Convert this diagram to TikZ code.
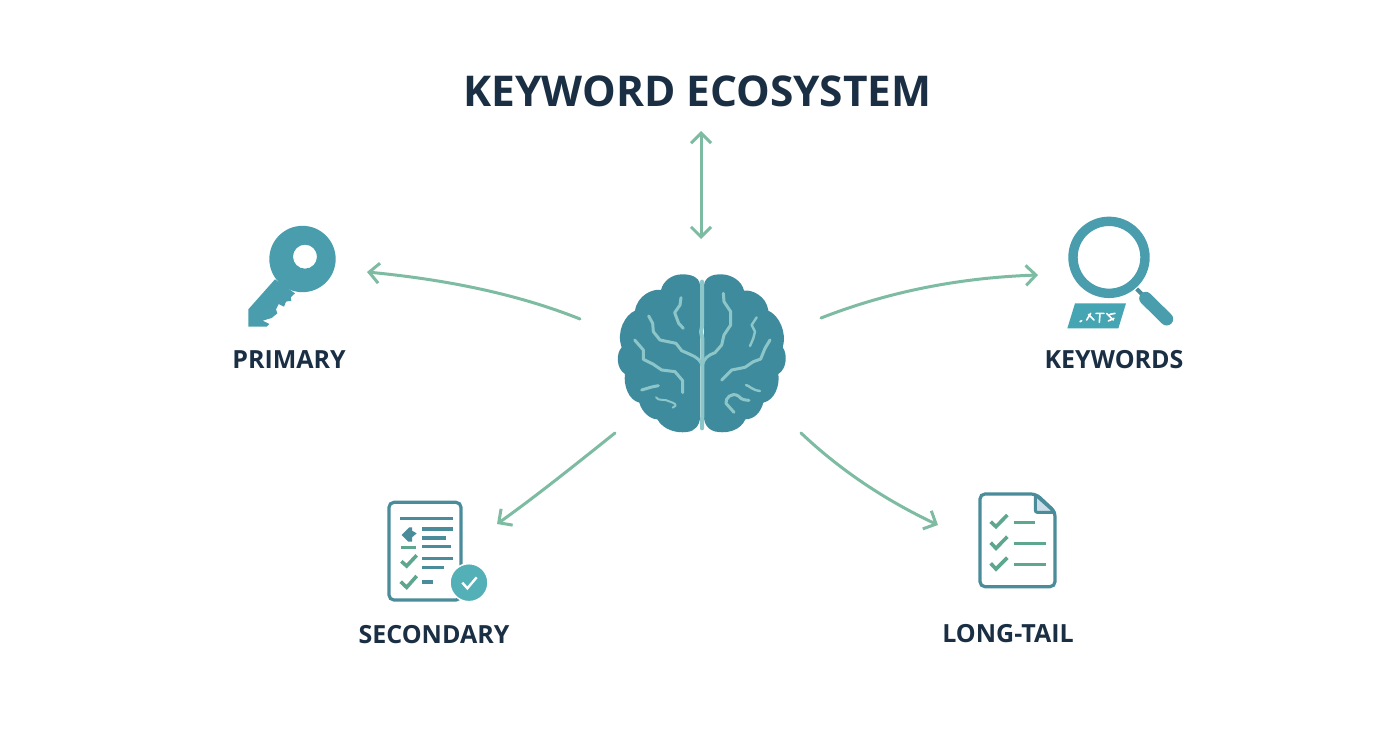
\documentclass[tikz,border=0pt]{standalone}
\usepackage{fontspec}
\setmainfont{Open Sans}
\usetikzlibrary{arrows.meta}
\definecolor{ink}{HTML}{1B2F44}
\definecolor{brainc}{HTML}{3F8B9E}
\definecolor{vein}{HTML}{8CC6C8}
\definecolor{keyc}{HTML}{4A9DAD}
\definecolor{docc}{HTML}{4B8C9A}
\definecolor{arrowc}{HTML}{7DBCA2}
\definecolor{checkc}{HTML}{5FA68F}
\definecolor{badge}{HTML}{53B0B6}
\definecolor{tagc}{HTML}{45A5B3}
\definecolor{foldc}{HTML}{CBDDE8}
\tikzset{
  link/.style={draw=arrowc,line width=3pt,line cap=round,>={Straight Barb[length=10pt,width=20pt,line width=3pt]}},
  zoomed/.style={scale=0.33333},
  vline/.style={draw=vein,line width=3pt,line cap=round,line join=round},
  docline/.style={draw=docc,line width=3.2pt},
  greenline/.style={draw=checkc,line width=3pt},
  tick/.style={draw=checkc,line width=3.6pt,line join=miter},
  lab/.style={text=ink,font=\bfseries\fontsize{25}{28}\selectfont,inner sep=0pt,anchor=center},
}
\begin{document}
\begin{tikzpicture}[x=1pt,y=-1pt]
\useasboundingbox (0,0) rectangle (1392,752);
\fill[white] (0,0) rectangle (1392,752);

% title and labels
\node[lab,font=\bfseries\fontsize{42.4}{48}\selectfont] (title) at (697.5,91) {KEYWORD ECOSYSTEM};
\node[lab] (primary) at (289,360) {PRIMARY};
\node[lab] (keywords) at (1114,360) {KEYWORDS};
\node[lab] (secondary) at (434,635) {SECONDARY};
\node[lab] (longtail) at (1008,634) {LONG-TAIL};

% brain
\begin{scope}[shift={(600,260)},zoomed]
\fill[brainc] (300,75) .. controls (298,50) and (270,42) .. (245,43)
  .. controls (215,44) and (190,62) .. (183,90)
  .. controls (160,85) and (112,105) .. (105,152)
  .. controls (75,165) and (48,215) .. (65,262)
  .. controls (48,280) and (48,325) .. (75,342)
  .. controls (70,375) and (85,420) .. (118,428)
  .. controls (125,455) and (150,478) .. (172,478)
  .. controls (190,510) and (230,520) .. (260,516)
  .. controls (285,514) and (300,495) .. (300,470) -- cycle;
\fill[brainc] (312,75) .. controls (315,50) and (340,42) .. (365,43)
  .. controls (395,44) and (425,62) .. (432,92)
  .. controls (455,88) and (500,108) .. (505,152)
  .. controls (535,165) and (562,215) .. (548,262)
  .. controls (562,280) and (562,325) .. (535,342)
  .. controls (540,375) and (525,420) .. (490,428)
  .. controls (482,458) and (462,478) .. (436,478)
  .. controls (422,510) and (385,520) .. (355,516)
  .. controls (328,514) and (312,495) .. (312,470) -- cycle;
% central fissure
\draw[vline,line width=4pt] (306,65) -- (306,200) -- (303,215) -- (307,235) -- (307,460) -- (306,505);
\draw[vline] (307,320) .. controls (303,300) and (290,292) .. (270,283) -- (245,272) -- (228,250) -- (180,240) -- (160,215) -- (158,190) -- (146,168);
\draw[vline] (307,315) .. controls (312,295) and (325,285) .. (345,278) -- (365,255) -- (372,225) -- (392,195) -- (392,155) -- (372,125) -- (370,100);
\draw[vline] (243,113) -- (240,135) -- (224,158) -- (236,190) -- (250,205);
\draw[vline] (104,240) -- (130,270) -- (130,298) -- (160,313) -- (185,330) -- (225,335) -- (248,362) -- (248,398);
\draw[vline] (365,360) -- (395,330) -- (435,322) -- (460,305) -- (482,297) -- (495,265) -- (510,240);
\draw[vline,line width=2.4pt] (470,172) -- (455,195) -- (465,215) -- (460,235) -- (450,258);
\draw[vline] (125,390) -- (155,381) -- (175,377);
\draw[vline,line width=2pt] (168,412) .. controls (175,425) and (195,415) .. (210,425) .. controls (225,430) and (235,435) .. (218,443);
\draw[vline,line width=2.4pt] (438,375) .. controls (450,378) and (455,390) .. (480,393);
\draw[vline] (402,457) -- (378,430) .. controls (375,415) and (395,395) .. (415,408) .. controls (425,420) and (435,420) .. (447,421);
\end{scope}

% key
\begin{scope}[shift={(220,210)},zoomed]
\fill[keyc,even odd rule] (247.5,147) circle[radius=99.5] (255,140) circle[radius=36];
\fill[keyc] (85,298) -- (165,208) -- (225,250) -- (212,262) -- (214,272) -- (198,275) -- (192,290) -- (176,282) -- (168,298) -- (172,310) -- (155,324) -- (128,332) -- (148,342) -- (140,350) -- (85,350) -- cycle;
\end{scope}

% magnifier
\begin{scope}[shift={(1030,205)},zoomed]
\draw[keyc,line width=9.4pt] (237,157) circle[radius=108];
\draw[docc,line width=4pt] (320,252) -- (345,277);
\draw[keyc,line width=13pt,line cap=round] (347,280) -- (410,342);
\fill[tagc] (135,295) -- (288,295) -- (265,370) -- (112,370) -- cycle;
\draw[white,line width=1.6pt,line cap=round] (150,350) -- (155,347) (170,345) -- (182,325) (175,328) -- (192,345) (198,325) -- (222,325) (210,325) -- (208,352) (230,325) -- (250,345) (235,348) -- (252,340) (240,328) -- (255,325);
\end{scope}

% secondary document
\begin{scope}[shift={(350,490)},zoomed]
\draw[docc,line width=3.2pt,rounded corners=5pt,fill=white] (117,37) rectangle (333,330);
\draw[docline] (150,85) -- (308,85);
\fill[docc] (155,135) -- (178,112) -- (186,112) -- (186,155) -- (175,155) -- cycle;
\fill[docc] (186,122) -- (200,130) -- (186,142) -- cycle;
\draw[greenline] (153,172) -- (197,172);
\draw[docline] (217,117) -- (308,117) (217,144) -- (287,144) (217,170) -- (303,170) (217,206) -- (308,206) (217,232) -- (282,232);
\draw[docline] (217,276) -- (250,276);
\draw[tick] (154,214) -- (170,228) -- (200,196);
\draw[tick] (152,275) -- (170,292) -- (200,258);
\fill[badge,draw=white,line width=1.5pt] (357,278) circle[radius=57];
\draw[white,line width=2.4pt] (337,278) -- (352,295) -- (380,262);
\end{scope}

% long-tail document
\begin{scope}[shift={(930,480)},zoomed]
\draw[docc,line width=3.2pt,rounded corners=5pt] (318,42) -- (150,42) -- (150,320) -- (375,320) -- (375,95) -- cycle;
\fill[foldc,draw=docc,line width=3pt,rounded corners=2pt] (316,44) -- (316,97) -- (375,97) -- cycle;
\draw[tick] (182,125) -- (198,140) -- (232,105);
\draw[tick] (182,188) -- (198,205) -- (232,170);
\draw[tick] (182,250) -- (198,267) -- (232,233);
\draw[greenline] (251,127) -- (314,127) (251,190) -- (347,190) (251,253) -- (347,253);
\end{scope}

% connector ends
\coordinate (topA) at (701,131);
\coordinate (topB) at (701,239);
\coordinate (bl) at (580,319);
\coordinate (keyEnd) at (367,272);
\coordinate (br) at (821,318);
\coordinate (searchEnd) at (1038,275);
\coordinate (bsw) at (615,433);
\coordinate (secEnd) at (497,524);
\coordinate (bse) at (801,433);
\coordinate (longEnd) at (938,525);

\draw[link,<->] (topA) -- (topB);
\draw[link,->] (bl) .. controls (520,295) and (450,280) .. (keyEnd);
\draw[link,->] (br) .. controls (880,295) and (950,278) .. (searchEnd);
\draw[link,->] (bsw) .. controls (575,465) and (535,497) .. (secEnd);
\draw[link,->] (bse) .. controls (840,470) and (885,500) .. (longEnd);
\end{tikzpicture}
\end{document}
